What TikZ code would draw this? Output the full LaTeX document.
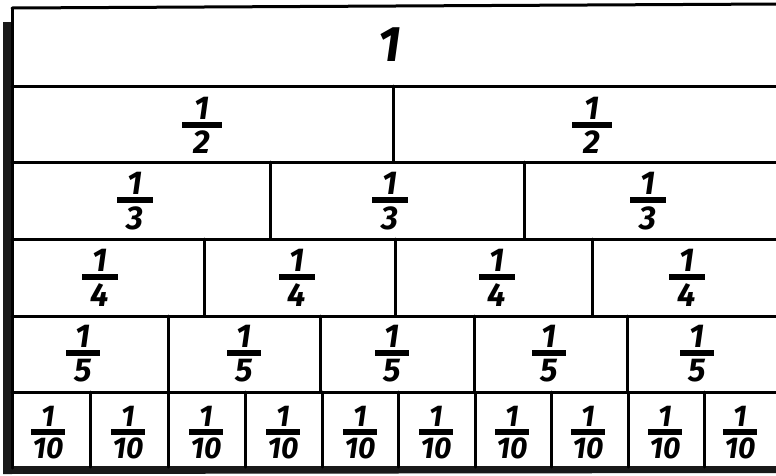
\documentclass[tikz,border=0pt]{standalone}
\usepackage{fontspec}
\setmainfont{Fira Sans}
\newcommand\frw[2]{\vbox{\hbox to #2{\hss 1\hss}\kern2.5pt\hrule height 6pt\kern3pt\hbox to #2{\hss #1\hss}}}
\begin{document}
\begin{tikzpicture}[x=1pt,y=-1pt,
  wall/.style={line width=3pt,line cap=round},
  frac/.style={font=\fontsize{33}{33}\selectfont\bfseries\itshape,inner sep=0pt},
  smallfrac/.style={font=\fontsize{30}{30}\selectfont\bfseries\itshape,inner sep=0pt},
  whole/.style={font=\fontsize{50}{50}\selectfont\bfseries\itshape,inner sep=0pt}]
\useasboundingbox (0,0) rectangle (776,475);
\fill[white] (0,0) rectangle (776,475);
% outer frame
\coordinate (tl) at (12,8);
\coordinate (tr) at (778,4);
\draw[wall] (tl) -- (tr);
\fill[black!90] (3,22) rectangle (12,474);
\fill[black!90] (3,466) -- (776,466) -- (776,473) -- (3,474) -- cycle;
\draw[wall] (12,8) -- (12,468);
% row lines
\foreach \y in {86,162,239,316,392}{\draw[wall] (12,\y) -- (778,\y);}
% vertical dividers
\draw[wall] (393,86) -- (393,162);
\foreach \x in {270,524}{\draw[wall] (\x,162) -- (\x,239);}
\foreach \x in {204,395,592}{\draw[wall] (\x,239) -- (\x,316);}
\foreach \x in {168,320,474,627}{\draw[wall] (\x,316) -- (\x,392);}
\foreach \x in {90,168,245,322,398,475,551,628,704}{\draw[wall] (\x,392) -- (\x,467);}
% labels
\node[whole] (one) at (390,45) {1};
\node[frac] (h1) at (202,125) {\frw{2}{40pt}};
\node[frac] (h2) at (592,125) {\frw{2}{40pt}};
\foreach \x [count=\i] in {135,390,648}{\node[frac] (t\i) at (\x,201) {\frw{3}{36pt}};}
\foreach \x [count=\i] in {100,297,497,687}{\node[frac] (q\i) at (\x,278) {\frw{4}{36pt}};}
\foreach \x [count=\i] in {83,244,392,549,697}{\node[frac] (f\i) at (\x,354) {\frw{5}{34pt}};}
\foreach \x [count=\i] in {48,128,206,283,360,436,512,588,665,740}{\node[smallfrac] (d\i) at (\x,433) {\frw{10}{34pt}};}
\end{tikzpicture}
\end{document}
